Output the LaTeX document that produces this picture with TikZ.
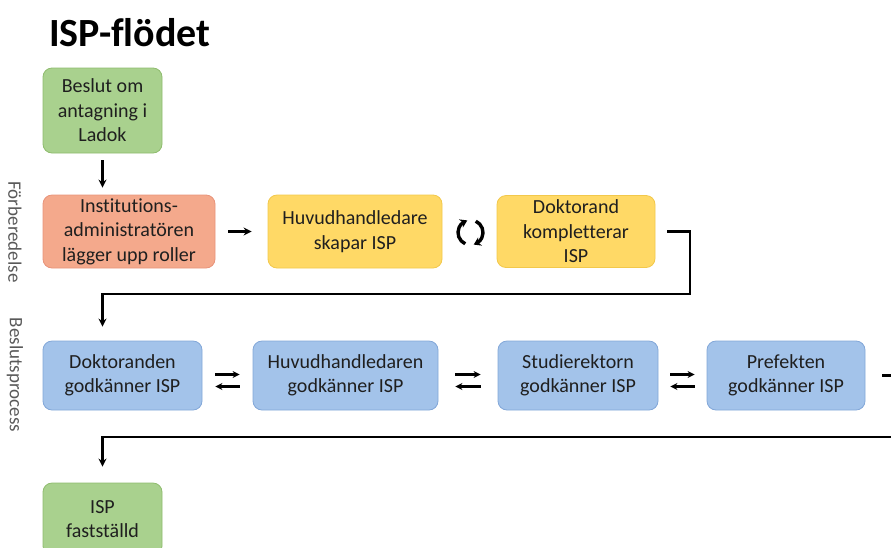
\documentclass[tikz,border=0pt]{standalone}
\usepackage{fontspec}
\setmainfont{Carlito}[Ligatures={NoCommon}]
\usepackage{xcolor}
\usepackage{tikz}
\usetikzlibrary{positioning,arrows.meta,calc,bending}

\definecolor{gronfyll}{HTML}{A9D18E}
\definecolor{gronkant}{HTML}{8FBC6E}
\definecolor{laxfyll}{HTML}{F4A98C}
\definecolor{laxkant}{HTML}{E8937A}
\definecolor{gulfyll}{HTML}{FFD966}
\definecolor{gulkant}{HTML}{F2C84B}
\definecolor{blafyll}{HTML}{A3C3EA}
\definecolor{blakant}{HTML}{82A7D8}
\definecolor{sidtext}{HTML}{595959}

\begin{document}
\begin{tikzpicture}[x=1pt, y=1pt,
    ruta/.style={draw, rounded corners=9pt, line width=0.8pt, align=center,
        text=black!88, inner sep=2pt,
        font=\fontsize{20}{24.5}\selectfont},
    gron/.style={ruta, fill=gronfyll, draw=gronkant, minimum width=119pt, minimum height=85pt},
    lax/.style={ruta, fill=laxfyll, draw=laxkant},
    gul/.style={ruta, fill=gulfyll, draw=gulkant},
    bla/.style={ruta, fill=blafyll, draw=blakant, minimum height=69pt},
    sida/.style={rotate=-90, text=sidtext, font=\fontsize{19}{22}\selectfont},
    pil/.style={line width=2.6pt, -{Stealth[length=8pt,width=8pt]}},
    tunnpil/.style={line width=2.4pt, -{Stealth[length=7pt,width=7pt]}},
    cykel/.style={line width=3.4pt, -{Stealth[length=7pt,width=9pt,flex]}},
]
    % Ramen (bilden ar avklippt till hoger)
    \path[use as bounding box, clip] (0,0) rectangle (891,-547);

    % Rubrik och sidetiketter
    \node[anchor=west, inner sep=0pt, font=\fontsize{40}{44}\selectfont\bfseries] (rubrik) at (49,-33) {ISP-flödet};
    \node[sida] (forb) at (15,-232) {Förberedelse};
    \node[sida] (besl) at (15,-375) {Beslutsprocess};

    % Forberedelse
    \node[gron] (b1) at (102.5,-110.5) {Beslut om\\antagning i\\Ladok};
    \node[lax, minimum width=172pt, minimum height=73pt] (b2) at (129,-231.5) {Institutions-\\administratören\\lägger upp roller};
    \node[gul, minimum width=174pt, minimum height=73pt] (b3) at (355,-231.5) {Huvudhandledare\\skapar ISP};
    \node[gul, minimum width=158pt, minimum height=72pt] (b4) at (576,-231.5) {Doktorand\\kompletterar\\ISP};

    % Beslutsprocess
    \node[bla, minimum width=159pt] (d1) at (122.5,-375.5) {Doktoranden\\godkänner ISP};
    \node[bla, minimum width=185pt] (d2) at (345.5,-375.5) {Huvudhandledaren\\godkänner ISP};
    \node[bla, minimum width=160pt] (d3) at (578,-375.5) {Studierektorn\\godkänner ISP};
    \node[bla, minimum width=158pt] (d4) at (786,-375.5) {Prefekten\\godkänner ISP};

    \node[gron, minimum height=72pt] (f1) at (102.5,-519) {ISP\\fastställd};

    % Pilar
    \draw[pil, shorten <=7pt, shorten >=7pt] (b1.south) -- (b1.south |- b2.north);
    \draw[pil, shorten <=13pt, shorten >=16pt] (b2.east) -- (b3.west);

    % Cykel mellan b3 och b4
    \coordinate (cyk) at ($(b3.east)!.5!(b4.west)+(1,-1)$);
    \draw[cykel] ([shift={(245:12.5pt)}]cyk) arc[start angle=245, end angle=105, radius=12.5pt];
    \draw[cykel] ([shift={(65:12.5pt)}]cyk) arc[start angle=65, end angle=-75, radius=12.5pt];

    \coordinate (k1) at (690,-294);
    \draw[pil, shorten <=12pt, shorten >=14pt] (b4.east) -| (k1) -| (b1.south |- d1.north);

    % Fram och tillbaka mellan godkannandena
    \foreach \a/\b/\s in {d1/d2/13, d2/d3/17, d3/d4/12} {
        \draw[tunnpil, shorten <=\s pt, shorten >=\s pt] ([yshift=1pt]\a.east) -- ([yshift=1pt]\b.west);
        \draw[tunnpil, shorten <=\s pt, shorten >=\s pt] ([yshift=-11pt]\b.west) -- ([yshift=-11pt]\a.east);
    }

    \coordinate (k2) at (905,-437);
    \draw[pil, shorten <=17pt, shorten >=16pt] (d4.east) -| (k2) -| (b1.south |- f1.north);

\end{tikzpicture}
\end{document}
